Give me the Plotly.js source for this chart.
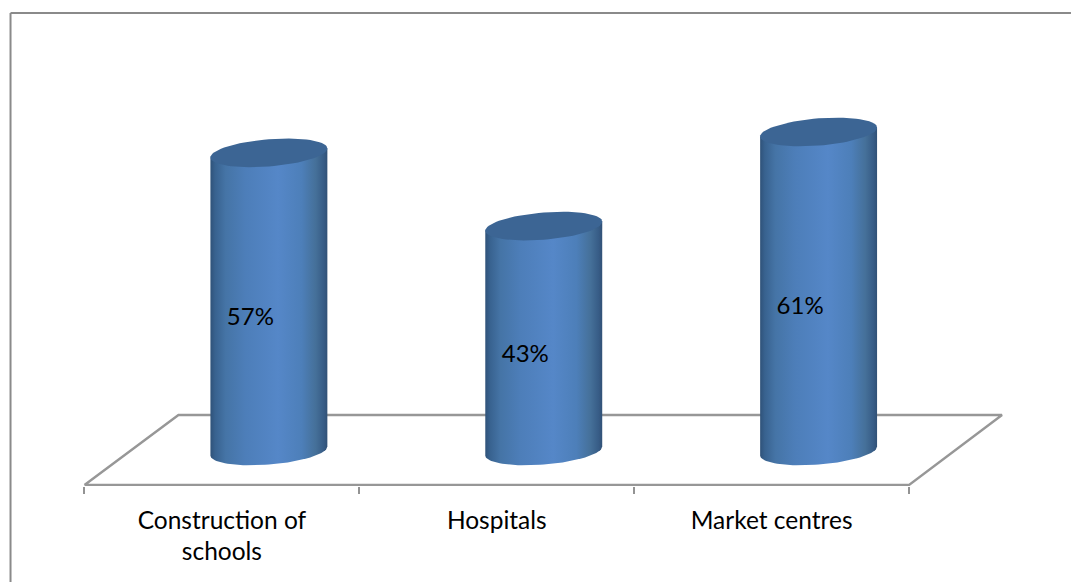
<!DOCTYPE html>
<html>
<head>
<meta charset="utf-8">
<script src="https://cdn.plot.ly/plotly-3.0.1.min.js"></script>
<style>html,body{margin:0;padding:0;background:#fff;overflow:hidden}#chart{width:1071px;height:582px}</style>
</head>
<body>
<div id="chart"></div>
<script>
const categories = ["Construction of<br>schools", "Hospitals", "Market centres"];
const positions = [0, 1, 2];
const percentages = [57, 43, 61];
const boundaries = [-0.5, 0.5, 1.5, 2.5];

// Plot frame in pixels and value ranges on both axes; the x range leaves room for the floor's depth
const W = 1071, H = 582;
const M = {l: 56.5, r: 52, t: 13, b: 96};
const xRange = [-0.6, 2.9];
const yRange = [-6.7, 83.75];
const yFront = -6.5;
const pxX = (W - M.l - M.r) / (xRange[1] - xRange[0]);
const pxY = (H - M.t - M.b) / (yRange[1] - yRange[0]);

// Cylinder geometry, in axis units
const depthX = 47 / pxX;
const radiusX = 58.5 / pxX;
const radiusY = 13.6 / pxY;
const tilt = 4.5 / pxY;

const bodyStops = [
  [0, "#2f5279"], [0.04, "#38628f"], [0.13, "#4574a6"], [0.3, "#4d7eb9"],
  [0.58, "#5587c8"], [0.78, "#4d7fb9"], [0.9, "#457099"], [0.97, "#375c86"], [1, "#315176"]
];

function arc(cx, cy, from, to, n) {
  const xs = [], ys = [];
  for (let i = 0; i <= n; i++) {
    const t = from + (to - from) * i / n;
    xs.push(cx + radiusX * Math.cos(t));
    ys.push(cy + radiusY * Math.sin(t) + tilt * Math.cos(t));
  }
  return {xs, ys};
}

const traces = [];

// Floor of the 3D plot box, including its front edge along the category axis
traces.push({
  x: [boundaries[0], boundaries[0] + 94 / pxX, boundaries[3] + 93 / pxX, boundaries[3], boundaries[0]],
  y: [yFront, 6.88, 6.88, yFront, yFront],
  mode: "lines", hoverinfo: "skip", showlegend: false,
  line: {color: "#979797", width: 2.4}
});

positions.forEach((p, i) => {
  const cx = p + depthX, v = percentages[i];
  // Bottom half of the base ellipse runs from the right side round to the left
  const base = arc(cx, 0, 0, -Math.PI, 48);
  traces.push({
    x: [...base.xs, cx - radiusX, cx + radiusX],
    y: [...base.ys, v - tilt, v + tilt],
    mode: "lines", fill: "toself", hoverinfo: "skip", showlegend: false,
    line: {width: 0, color: "rgba(0,0,0,0)"},
    fillgradient: {type: "horizontal", colorscale: bodyStops}
  });
  const cap = arc(cx, v, 0, 2 * Math.PI, 72);
  traces.push({
    x: cap.xs, y: cap.ys,
    mode: "lines", fill: "toself", fillcolor: "#3c6594", hoverinfo: "skip", showlegend: false,
    line: {width: 0, color: "rgba(0,0,0,0)"}
  });
});

// Percentage labels on the cylinder fronts
traces.push({
  x: positions.map(p => p + 28.5 / pxX),
  y: percentages.map(v => v / 2 - 17 / pxY),
  text: percentages.map(v => v + "%"),
  mode: "text", textposition: "middle center", hoverinfo: "skip", showlegend: false,
  textfont: {family: "Lato, sans-serif", size: 24, color: "#000"}
});

const paperX = px => (px - M.l) / (W - M.l - M.r);
const paperY = py => 1 - (py - M.t) / (H - M.t - M.b);

const layout = {
  width: W, height: H,
  margin: M,
  paper_bgcolor: "#fff", plot_bgcolor: "rgba(0,0,0,0)",
  showlegend: false,
  xaxis: {
    range: xRange, tickmode: "array", tickvals: positions, ticktext: categories,
    ticks: "", showgrid: false, zeroline: false, showline: false, ticklabelstandoff: 17,
    tickfont: {family: "Lato, sans-serif", size: 24.5, color: "#000"},
    minor: {tickmode: "array", tickvals: boundaries, ticks: "outside", ticklen: 7, tickwidth: 2, tickcolor: "#939393", showgrid: false}
  },
  yaxis: {range: yRange, visible: false},
  shapes: [
    {type: "line", xref: "paper", yref: "paper", x0: paperX(10), x1: paperX(1071), y0: paperY(13), y1: paperY(13), line: {color: "#8a8a8a", width: 2}},
    {type: "line", xref: "paper", yref: "paper", x0: paperX(10), x1: paperX(10), y0: paperY(13), y1: paperY(582), line: {color: "#8a8a8a", width: 2}}
  ]
};

Plotly.newPlot("chart", traces, layout, {displayModeBar: false, staticPlot: true});
</script>
</body>
</html>
